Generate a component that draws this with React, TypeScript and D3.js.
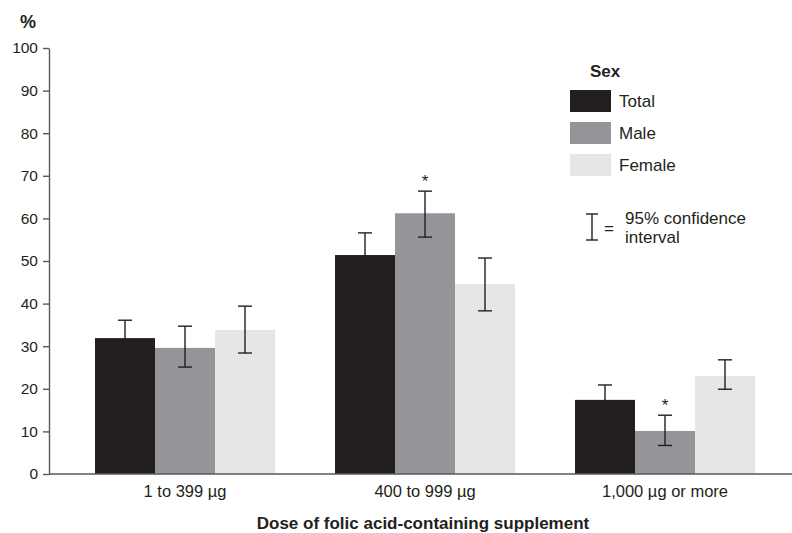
import React, { useEffect, useRef } from 'react';
import * as d3 from 'd3';

const doses = ['1 to 399 µg', '400 to 999 µg', '1,000 µg or more'];
const sexes = ['Total', 'Male', 'Female'];
const colours = ['#231f20', '#939598', '#e6e6e7'];

// estimated % and 95% CI per dose
const totalValues = [31.9, 51.4, 17.4];
const totalLow = [27.6, 46.2, 13.9];
const totalHigh = [36.1, 56.6, 20.9];
const maleValues = [29.6, 61.2, 10.1];
const maleLow = [25.1, 55.6, 6.7];
const maleHigh = [34.7, 66.4, 13.8];
const femaleValues = [33.8, 44.6, 23.0];
const femaleLow = [28.4, 38.3, 19.9];
const femaleHigh = [39.4, 50.7, 26.8];

const significant = [
  [false, false, false],
  [false, true, false],
  [false, true, false],
];

const yTicks = [0, 10, 20, 30, 40, 50, 60, 70, 80, 90, 100];

const App: React.FC = () => {
  const svgRef = useRef<SVGSVGElement>(null);

  useEffect(() => {
    if (!svgRef.current) return;
    const svg = d3.select(svgRef.current);
    svg.selectAll('*').remove();

    const font = '"Liberation Sans", Arial, sans-serif';
    const ink = '#231f20';
    const axisCol = '#58595b';

    const values = [totalValues, maleValues, femaleValues];
    const lows = [totalLow, maleLow, femaleLow];
    const highs = [totalHigh, maleHigh, femaleHigh];

    const rows = doses.flatMap((dose, i) =>
      sexes.map((sex, j) => ({
        dose,
        sex,
        j,
        value: values[j][i],
        low: lows[j][i],
        high: highs[j][i],
        star: significant[i][j],
      }))
    );

    const y = d3.scaleLinear().domain([0, 100]).range([474, 48]);
    const x0 = d3.scaleBand().domain(doses).range([65, 785]).padding(0);
    const x1 = d3
      .scaleBand()
      .domain(sexes)
      .range([0, x0.bandwidth()])
      .paddingInner(0)
      .paddingOuter(0.5);
    const cx = (d: { dose: string; sex: string }) =>
      (x0(d.dose) || 0) + (x1(d.sex) || 0) + x1.bandwidth() / 2;

    // bars
    const g = svg.append('g');
    g.selectAll('rect.bar')
      .data(rows)
      .enter()
      .append('rect')
      .attr('class', 'bar')
      .attr('x', (d) => (x0(d.dose) || 0) + (x1(d.sex) || 0))
      .attr('y', (d) => y(d.value))
      .attr('width', x1.bandwidth())
      .attr('height', (d) => y(0) - y(d.value))
      .attr('fill', (d) => colours[d.j]);

    // error bars
    const cap = 7;
    const eb = g
      .selectAll('g.err')
      .data(rows)
      .enter()
      .append('g')
      .attr('class', 'err')
      .attr('transform', (d) => `translate(${cx(d)},0)`)
      .attr('stroke', ink)
      .attr('stroke-width', 1.4);
    eb.append('line')
      .attr('x1', 0)
      .attr('x2', 0)
      .attr('y1', (d) => y(d.low))
      .attr('y2', (d) => y(d.high));
    eb.append('line')
      .attr('x1', -cap)
      .attr('x2', cap)
      .attr('y1', (d) => y(d.high))
      .attr('y2', (d) => y(d.high));
    eb.append('line')
      .attr('x1', -cap)
      .attr('x2', cap)
      .attr('y1', (d) => y(d.low))
      .attr('y2', (d) => y(d.low));

    // asterisks
    g.selectAll('text.star')
      .data(rows.filter((d) => d.star))
      .enter()
      .append('text')
      .attr('class', 'star')
      .attr('x', cx)
      .attr('y', (d) => y(d.high) - 4)
      .attr('text-anchor', 'middle')
      .style('font-family', font)
      .style('font-size', '17px')
      .attr('fill', ink)
      .text('*');

    // y axis
    const yAxis = svg
      .append('g')
      .attr('transform', 'translate(49,0)')
      .call(d3.axisLeft(y).tickValues(yTicks).tickSize(6).tickSizeOuter(0).tickPadding(5));
    yAxis.select('.domain').attr('stroke', axisCol).attr('stroke-width', 1.4);
    yAxis.selectAll('.tick line').attr('stroke', axisCol).attr('stroke-width', 1.4);
    yAxis
      .selectAll('.tick text')
      .style('font-family', font)
      .style('font-size', '15.5px')
      .attr('fill', ink);

    // x axis
    const xAxis = svg
      .append('g')
      .attr('transform', `translate(0,${y(0)})`)
      .call(d3.axisBottom(x0).tickSize(0).tickPadding(11));
    xAxis
      .select('.domain')
      .attr('d', `M49,0H792`)
      .attr('stroke', axisCol)
      .attr('stroke-width', 1.4);
    xAxis
      .selectAll('.tick text')
      .style('font-family', font)
      .style('font-size', '16.5px')
      .attr('fill', ink);

    svg
      .append('text')
      .attr('x', 423)
      .attr('y', 529)
      .attr('text-anchor', 'middle')
      .style('font-family', font)
      .style('font-size', '17px')
      .style('font-weight', 'bold')
      .attr('fill', ink)
      .text('Dose of folic acid-containing supplement');

    svg
      .append('text')
      .attr('x', 28)
      .attr('y', 28)
      .attr('text-anchor', 'middle')
      .style('font-family', font)
      .style('font-size', '18px')
      .style('font-weight', 'bold')
      .attr('fill', ink)
      .text('%');

    // legend
    const fs = '17px';
    const lg = svg.append('g').attr('transform', 'translate(570,0)');
    lg.append('text')
      .attr('x', 20)
      .attr('y', 77)
      .style('font-family', font)
      .style('font-size', fs)
      .style('font-weight', 'bold')
      .attr('fill', ink)
      .text('Sex');
    const items = lg
      .selectAll('g.item')
      .data(sexes)
      .enter()
      .append('g')
      .attr('class', 'item')
      .attr('transform', (_d, i) => `translate(0,${90 + i * 32})`);
    items
      .append('rect')
      .attr('width', 41)
      .attr('height', 22)
      .attr('fill', (_d, i) => colours[i]);
    items
      .append('text')
      .attr('x', 49)
      .attr('y', 17)
      .style('font-family', font)
      .style('font-size', fs)
      .attr('fill', ink)
      .text((d) => d);

    // CI key
    const ci = lg
      .append('g')
      .attr('transform', 'translate(22,0)')
      .attr('stroke', ink)
      .attr('stroke-width', 1.4);
    ci.append('line').attr('x1', 0).attr('x2', 0).attr('y1', 214).attr('y2', 240);
    ci.append('line').attr('x1', -6).attr('x2', 6).attr('y1', 214).attr('y2', 214);
    ci.append('line').attr('x1', -6).attr('x2', 6).attr('y1', 240).attr('y2', 240);
    lg.append('text')
      .attr('x', 34)
      .attr('y', 234)
      .style('font-family', font)
      .style('font-size', fs)
      .attr('fill', ink)
      .text('=');
    lg.append('text')
      .attr('x', 55)
      .attr('y', 224)
      .style('font-family', font)
      .style('font-size', fs)
      .attr('fill', ink)
      .text('95% confidence');
    lg.append('text')
      .attr('x', 55)
      .attr('y', 243)
      .style('font-family', font)
      .style('font-size', fs)
      .attr('fill', ink)
      .text('interval');
  }, []);

  return (
    <svg
      ref={svgRef}
      width={792}
      height={533}
      style={{ position: 'absolute', left: 0, top: 0, background: '#fff' }}
    />
  );
};

export default App;
